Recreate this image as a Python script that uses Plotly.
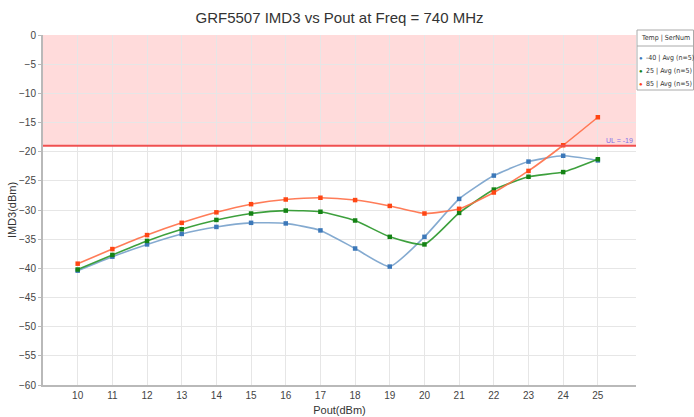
import plotly.graph_objects as go

pout = [10, 11, 12, 13, 14, 15, 16, 17, 18, 19, 20, 21, 22, 23, 24, 25]
imd3_m40 = [-40.4, -38.0, -35.9, -34.1, -32.9, -32.2, -32.3, -33.5, -36.6, -39.7, -34.6, -28.1, -24.1, -21.7, -20.7, -21.5]
imd3_25 = [-40.2, -37.7, -35.3, -33.3, -31.7, -30.6, -30.1, -30.3, -31.8, -34.6, -35.9, -30.5, -26.5, -24.3, -23.5, -21.3]
imd3_85 = [-39.2, -36.7, -34.3, -32.2, -30.4, -29.0, -28.2, -27.9, -28.3, -29.3, -30.6, -29.8, -27.0, -23.3, -18.9, -14.1]
series_names = ["-40 | Avg (n=5)", "25 | Avg (n=5)", "85 | Avg (n=5)"]
upper_limit = -19
x_ticks = list(range(10, 26))
y_ticks = list(range(-60, 1, 5))

line_colors = ["rgba(110,155,200,0.85)", "rgba(40,150,40,0.9)", "rgba(255,110,70,0.9)"]
marker_colors = ["rgb(60,120,185)", "rgb(20,130,20)", "rgb(255,70,20)"]

fig = go.Figure()
for ys, name, lc, mc in zip([imd3_m40, imd3_25, imd3_85], series_names, line_colors, marker_colors):
    fig.add_trace(go.Scatter(
        x=pout, y=ys, name=name, mode="lines+markers",
        line=dict(color=lc, width=1.6, shape="spline", smoothing=0.5),
        marker=dict(color=mc, size=4.5, symbol="square"),
        showlegend=False,
    ))

# Limit region
fig.add_shape(type="rect", xref="paper", yref="y", x0=0, x1=1, y0=upper_limit, y1=0,
              fillcolor="rgba(255,110,110,0.25)", line=dict(width=0), layer="below")
fig.add_shape(type="line", xref="paper", yref="y", x0=0, x1=1, y0=upper_limit, y1=upper_limit,
              line=dict(color="rgb(240,80,80)", width=2))
fig.add_annotation(xref="paper", yref="y", x=0.998, y=upper_limit, text="UL = -19",
                   showarrow=False, xanchor="right", yanchor="bottom",
                   font=dict(size=7, color="rgb(130,110,230)", family="Liberation Sans"))

# Manual legend (pixel-based in paper coords)
L, R, T, B = 43, 636, 35, 385
def px(x):
    return (x - L) / (R - L)
def py(y):
    return (B - y) / (B - T)

NARROW = "DejaVu Sans Condensed, Liberation Sans Narrow, Liberation Sans"
fig.add_shape(type="rect", xref="paper", yref="paper", x0=px(637), x1=px(693.5), y0=py(30), y1=py(90),
              line=dict(color="rgb(170,170,170)", width=1), fillcolor="white")
fig.add_shape(type="line", xref="paper", yref="paper", x0=px(637), x1=px(693.5), y0=py(46), y1=py(46),
              line=dict(color="rgb(170,170,170)", width=1))
fig.add_annotation(xref="paper", yref="paper", x=px(639), y=py(38), text="Temp | SerNum",
                   showarrow=False, xanchor="left", yanchor="middle",
                   font=dict(size=7, color="#333", family=NARROW))
for i, (name, mc) in enumerate(zip(series_names, marker_colors)):
    yy = 58 + i * 13
    fig.add_annotation(xref="paper", yref="paper", x=px(641), y=py(yy), text="●",
                       showarrow=False, xanchor="center", yanchor="middle",
                       font=dict(size=6, color=mc))
    fig.add_annotation(xref="paper", yref="paper", x=px(644), y=py(yy), text=name,
                       showarrow=False, xanchor="left", yanchor="middle",
                       font=dict(size=7, color="#333", family=NARROW))

fig.update_layout(
    width=694, height=417,
    margin=dict(l=L, r=694 - R, t=T, b=417 - B, autoexpand=False),
    paper_bgcolor="white", plot_bgcolor="white",
    title=dict(text="GRF5507 IMD3 vs Pout at Freq = 740 MHz", x=0.5, xref="paper", xanchor="center",
               y=1 - 18 / 417, yanchor="middle",
               font=dict(size=15, color="#333", family="Liberation Sans")),
    font=dict(family="Liberation Sans", size=10, color="#444"),
    xaxis=dict(range=[9, 26.1], tickvals=x_ticks, showgrid=True, gridcolor="rgb(230,230,230)",
               showline=True, linecolor="rgb(185,185,185)", linewidth=2, zeroline=False,
               automargin=False,
               title=dict(text="Pout(dBm)", font=dict(size=11, color="#333"), standoff=6),
               tickfont=dict(size=10, color="#444")),
    yaxis=dict(range=[-60, 0], tickvals=y_ticks, showgrid=True, gridcolor="rgb(230,230,230)",
               showline=True, linecolor="rgb(185,185,185)", linewidth=2, zeroline=False,
               ticks="outside", ticklen=3, tickcolor="rgb(185,185,185)", automargin=False,
               title=dict(text="IMD3(dBm)", font=dict(size=11, color="#333"), standoff=0),
               tickfont=dict(size=10, color="#444")),
)

fig.write_html("out.html", config={"displayModeBar": False},
               post_script="document.body.style.margin='0';document.body.style.overflow='hidden';")
